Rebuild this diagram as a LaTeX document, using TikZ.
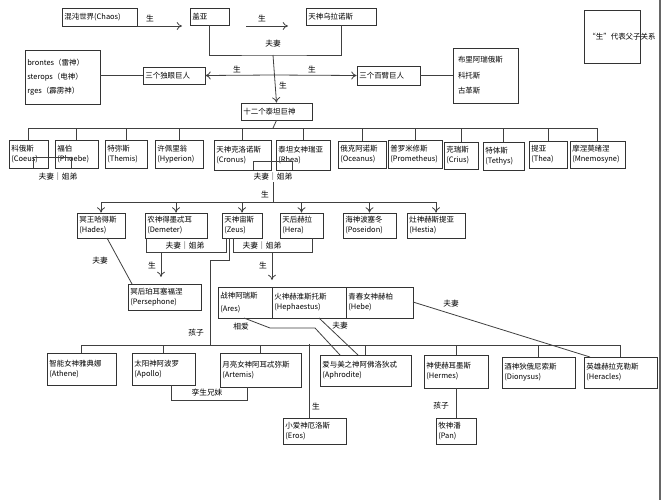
\documentclass[tikz,border=0pt]{standalone}
\usepackage{fontspec}
\setmainfont{Noto Sans CJK SC}
\usetikzlibrary{arrows.meta}
\begin{document}
\begin{tikzpicture}[x=0.75pt,y=-0.75pt,
  box/.style={draw=black!80,line width=0.6pt,inner sep=1.5pt,font=\fontsize{5.6}{7.5}\selectfont,align=left},
  lab/.style={font=\fontsize{5.8}{7}\selectfont,inner sep=0pt},
  ln/.style={draw=black!75,line width=0.6pt},
  arr/.style={ln,-{To[length=4pt,width=6pt]}}]
\useasboundingbox (0,0) rectangle (664,500);
\fill[white] (0,0) rectangle (664,500);
\newcommand\bx[6]{%
 \pgfmathsetmacro\bw{(#4-#2)*0.75}\pgfmathsetmacro\bh{(#5-#3)*0.75}\pgfmathsetmacro\tw{(#4-#2)*0.75-3.5}%
 \node[box,minimum width=\bw pt,minimum height=\bh pt,text width=\tw pt] (#1) at ({(#2+#4)/2},{(#3+#5)/2}) {#6};}
\bx{chaos}{62}{8}{137}{26}{混沌世界(Chaos)}
\bx{gaia}{190}{8}{229}{25}{盖亚}
\bx{uranus}{306}{8}{376}{25}{天神乌拉诺斯}
\bx{cyc}{143}{67}{205}{84}{三个独眼巨人}
\bx{hec}{357}{66}{420}{85}{三个百臂巨人}
\bx{cyclist}{25}{50}{100}{104}{brontes（雷神）\\[3pt]sterops（电神）\\[3pt]rges（霹雳神）}
\bx{heclist}{453}{48}{518}{103}{\hspace{2pt}布里阿瑞俄斯\\[4pt]\hspace{2pt}科托斯\\[4pt]\hspace{2pt}古革斯}
\node[draw=black!80,line width=0.6pt,minimum width=42pt,minimum height=40pt,text width=36pt,align=left,font=\fontsize{5.6}{6.5}\selectfont,anchor=north west,inner sep=3pt] (legend) at (584,10) {“生”代表父子关系\\[14pt]};
\bx{titans}{241}{103}{312}{120}{\centering 十二个泰坦巨神}
% titans
\bx{c1}{9}{140}{48}{168}{科俄斯\\(Coeus)}
\bx{c2}{55}{140}{98}{168}{福伯\\(Phoebe)}
\bx{c3}{105}{140}{147}{168}{特弥斯\\(Themis)}
\bx{c4}{155}{140}{203}{168}{许佩里翁\\(Hyperion)}
\bx{c5}{214}{140}{271}{170}{天神克洛诺斯\\(Cronus)}
\bx{c6}{276}{140}{330}{170}{泰坦女神瑞亚\\(Rhea)}
\bx{c7}{338}{141}{386}{168}{俄克阿诺斯\\(Oceanus)}
\bx{c8}{388}{140}{442}{168}{普罗米修斯\\(Prometheus)}
\bx{c9}{444}{142}{478}{169}{克瑞斯\\(Crius)}
\bx{c10}{483}{142}{524}{170}{特体斯\\(Tethys)}
\bx{c11}{529}{141}{567}{168}{提亚\\(Thea)}
\bx{c12}{570}{141}{625}{168}{摩涅莫绪涅\\(Mnemosyne)}
% gods
\bx{hades}{77}{213}{125}{238}{冥王哈得斯\\(Hades)}
\bx{demeter}{145}{213}{207}{238}{农神得墨忒耳\\(Demeter)}
\bx{zeus}{222}{213}{262}{238}{天神宙斯\\(Zeus)}
\bx{hera}{280}{213}{323}{238}{天后赫拉\\(Hera)}
\bx{poseidon}{343}{213}{396}{238}{海神波塞冬\\(Poseidon)}
\bx{hestia}{407}{213}{465}{238}{灶神赫斯提亚\\(Hestia)}
\bx{perse}{128}{284}{201}{310}{冥后珀耳塞福涅\\(Persephone)}
\bx{ares}{218}{287}{272}{318}{战神阿瑞斯\\[2pt](Ares)}
\bx{heph}{272}{287}{346}{318}{火神赫淮斯托斯\\(Hephaestus)}
\bx{hebe}{346}{287}{413}{318}{青春女神赫柏\\(Hebe)}
% children
\bx{athene}{47}{353}{116}{385}{智能女神雅典娜\\(Athene)\\[6pt]}
\bx{apollo}{132}{353}{195}{385}{太阳神阿波罗\\(Apollo)\\[6pt]}
\bx{artemis}{220}{353}{301}{387}{月亮女神阿耳忒弥斯\\(Artemis)\\[6pt]}
\bx{aphro}{320}{355}{411}{386}{爱与美之神阿佛洛狄忒\\(Aphrodite)\\[6pt]}
\bx{hermes}{424}{355}{488}{388}{神使赫耳墨斯\\(Hermes)\\[6pt]}
\bx{diony}{502}{357}{575}{388}{酒神狄俄尼索斯\\(Dionysus)\\[6pt]}
\bx{hercl}{584}{357}{657}{388}{英雄赫拉克勒斯\\(Heracles)\\[6pt]}
\bx{eros}{283}{418}{346}{444}{小爱神厄洛斯\\(Eros)}
\bx{pan}{436}{418}{476}{444}{牧神潘\\(Pan)}
% top connectors
\draw[arr] (chaos.east|-140,26) -- (182,26);
\node[lab] (l1) at (150,18) {生};
\draw[arr] (246,26) -- (288,26);
\node[lab] (l2) at (262,18) {生};
\coordinate (m1) at (273,55);
\draw[ln] (gaia.south) |- (m1) -| (uranus.south);
\node[lab] (l3) at (273,44) {夫妻};
\draw[arr] (m1) -- (titans.north);
\node[lab] (l4) at (283,85) {生};
\coordinate (m2) at (273,75);
\draw[arr] (m2) -- (cyc.east);
\draw[arr] (m2) -- (hec.west);
\node[lab] (l5) at (237,69) {生};
\node[lab] (l6) at (312,69) {生};
\draw[ln] (cyc.west) -- (cyclist.east|-cyc.west);
\draw[ln] (hec.east) -- (heclist.west|-hec.east);
% titans tree
\coordinate (tb) at (273,128);
\draw[ln] (titans.south) -- (tb);
\draw[ln] (c1.north|-tb) -- (c12.north|-tb);
\foreach \n in {c1,c2,c3,c4,c5,c6,c7,c8,c9,c10,c11,c12} \draw[ln] (\n.north|-tb) -- (\n.north);
\draw[ln] ([xshift=4pt]c1.south) -- ++(0,-11) -| ([xshift=-4pt]c2.south);
\node[lab] (l7) at (58,177) {夫妻｜姐弟};
\draw[ln] ([xshift=8pt]c5.south) -- ++(0,-9) coordinate (cb) -| ([xshift=-8pt]c6.south);
\node[lab] (l8) at (273,177) {夫妻｜姐弟};
\coordinate (gb) at (273,202);
\draw[ln] (273,182) -- (gb);
\node[lab] (l9) at (265,194) {生};
\draw[ln] (hades.north|-gb) -- (hestia.north|-gb);
\foreach \n in {hades,demeter,zeus,hera,poseidon,hestia} \draw[arr] (\n.north|-gb) -- (\n.north);
\draw[ln] (146,238) -- (146,252) -- (226,252) -- (226,238);
\node[lab] (l10) at (185,246) {夫妻｜姐弟};
\draw[ln] (233,238) -- (233,252) -- (312,252) -- (312,238);
\node[lab] (l11) at (262,246) {夫妻｜姐弟};
\draw[arr] (161,252) -- (161,277);
\node[lab] (l12) at (152,265) {生};
\draw[arr] (272,252) -- (272,280);
\node[lab] (l13) at (263,265) {生};
\draw[ln] (107,238) -- (132,284);
\node[lab] (l14) at (100,261) {夫妻};
% Zeus children
\coordinate (kb) at (210,345);
\draw[ln] (229,238) -- (229,260) -- (210,260) -- (kb);
\node[lab] (l15) at (196,333) {孩子};
\draw[ln] (athene.north|-kb) -- (hercl.north|-kb);
\foreach \n in {athene,apollo,artemis,aphro,hermes,diony,hercl} \draw[ln] (\n.north|-kb) -- (\n.north);
\draw[ln] (171,385) -- (171,400) -- (247,400) -- (247,387);
\node[lab] (l16) at (207,393) {孪生兄妹};
\draw[ln] (309,344) -- (309,418);
\node[lab] (l17) at (316,406) {生};
\draw[ln] (hermes.south) -- (pan.north);
\node[lab] (l18) at (441,406) {孩子};
\draw[ln] (244,318) -- (270,328) -- (315,328) -- (340,355);
\node[lab] (l19) at (241,327) {相爱};
\draw[ln] (319,318) -- (358,355);
\node[lab] (l20) at (340,326) {夫妻};
\draw[ln] (413,302) -- (590,357);
\node[lab] (l21) at (451,304) {夫妻};
\draw[black!60,line width=1pt] (660,0) -- (660,500);
\end{tikzpicture}
\end{document}
